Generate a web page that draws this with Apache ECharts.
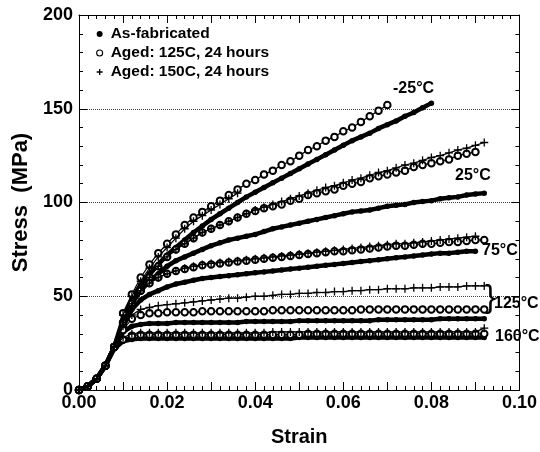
<!DOCTYPE html>
<html>
<head>
<meta charset="utf-8">
<script src="https://cdn.jsdelivr.net/npm/echarts@6/dist/echarts.min.js"></script>
<style>html,body{margin:0;padding:0;background:#fff}#c{width:540px;height:452px}</style>
</head>
<body>
<div id="c"></div>
<script>
// Strain grid (step 0.002)
const strain = [0,0.002,0.004,0.006,0.008,0.010,0.012,0.014,0.016,0.018,0.020,0.022,0.024,0.026,0.028,0.030,0.032,0.034,0.036,0.038,0.040,0.042,0.044,0.046,0.048,0.050,0.052,0.054,0.056,0.058,0.060,0.062,0.064,0.066,0.068,0.070,0.072,0.074,0.076,0.078,0.080,0.082,0.084,0.086,0.088,0.090,0.092];

const xTicks = [0.00,0.02,0.04,0.06,0.08,0.10];
const yTicks = [0,50,100,150,200];
const legendNames = ['As-fabricated','Aged: 125C, 24 hours','Aged: 150C, 24 hours'];
const tempLabels = ['-25°C','25°C','75°C','125°C','160°C'];

// As-fabricated (filled circles)
const fab_m25 = [0,2,6,13,23,38,48,56,62,67,72,76,80,84,87.5,91,94,97,100,103,105.5,108,110.5,113,115.5,118,120.5,123,125.5,128,130.5,133,135,137,139.5,141.5,143.5,146,148,150.5,153];
const fab_25  = [0,2,6,13,23,36,46,53,58,62,66,69,71,73,75,77,78.5,80,81,82,83,84.5,86,87,88,89,90,91,92,93,94,95,95.5,96,97,98,98.5,99,100,100.5,101,102,102.5,103,104,104.5,105];
const fab_75  = [0,2,6,13,23,34,43,48,51,53,55,56.5,57.5,58.5,59.5,60,60.5,61,61.5,62,62.5,63,63.5,64,64.5,65,65.5,66,66.5,67,67.5,68,68.5,69,69.5,70,70.5,71,71.5,72,72.5,73,73,73.5,74,74];
const fab_125 = [0,2,6,13,23,31,34,35,35.5,35.5,35.5,36,36,36,36,36,36,36,36,36.5,36.5,36.5,36.5,36.5,36.5,37,37,37,37,37,37,37,37,37,37.5,37.5,37.5,37.5,37.5,37.5,37.5,38,38,38,38,38,38];
const fab_160 = [0,2,6,13,22,26,27,27.5,27.5,27.5,27.5,27.5,27.5,27.5,27.5,27.5,27.5,27.5,27.5,27.5,27.5,27.5,27.5,27.5,27.5,28,28,28,28,28,28,28,28,28,28,28,28,28,28,28,28,28,28,28,28,28,28];

// Aged 125C, 24 hours (open circles)
const a125_m25 = [0,2,6,13,23,41,51,60,67,73,78,83,88,92,95,98,101,104,107,110,112,115,117,120,122,125,128,130,133,135,138,140,143,146,149,152];
const a125_25  = [0,2,6,13,23,36,45,53,60,66,71,75,78,81,84,86,88,90,92,94,95.5,97,98,99,101,102,104,105,106,107,109,110,111,113,114,115,116,117,119,120,121,122,123,125,126,127];
const a125_75  = [0,2,6,13,23,36,46,53,57,60,62,63.5,64.5,65.5,66.5,67,67.5,68,68.5,69,69.5,70,70.5,71,71.5,72,72.5,73,73.5,74,74,74.5,75,75.5,76,76.5,77,77,77.5,78,78,78.5,79,79,79.5,80,80];
const a125_125 = [0,2,6,13,23,32,38,40,41,41,41.5,41.5,41.5,41.5,42,42,42,42,42,42,42,42,42.5,42.5,42.5,42.5,42.5,42.5,42.5,42.5,42.5,42.5,43,43,43,43,43,43,43,43,43,43,43,43,43,43,43];
const a125_160 = [0,2,6,13,23,27,29,29.5,29.5,29.5,29.5,29.5,29.5,29.5,29.5,29.5,29.5,29.5,29.5,29.5,29.5,29.5,29.5,29.5,29.5,29.5,30,30,30,30,30,30,30,30,30,30,30,30,30,30,30,30,30,30,30,30,30];

// Aged 150C, 24 hours (plus)
const a150_m25 = [0,2,6,13,23,40,50,58,65,71,76,81,86,90,93,96,99,102,105];
const a150_25  = [0,2,6,13,23,36,45,53,60,66,71,75,78,81,84,86,88,90,92,94,96,97.5,99,100.5,102,103.5,105,106.5,108,109,110.5,112,113,114.5,116,117,118.5,120,121,122.5,124,125,126.5,128,129,130.5,132];
const a150_75  = [0,2,6,13,23,36,46,53,57,60,62,63.5,65,66,67,67.5,68,68.5,69,69.5,70,70.5,71,71.5,72,72.5,73,73.5,74,74.5,75,75.5,76,76.5,77,77.5,78,78,78.5,79,79.5,80,80.5,81,81.5,82];
const a150_125 = [0,2,6,13,23,34,40,43,44,45,45.5,46,46.5,47,47.5,48,48.5,49,49,49.5,50,50,50.5,51,51,51.5,51.5,52,52,52.5,52.5,53,53,53.5,53.5,54,54,54,54.5,54.5,54.5,55,55,55,55.5,55.5,55.5];
const a150_160 = [0,2,6,13,23,28,30,30.5,30.5,30.5,30.5,30.5,30.5,30.5,30.5,30.5,30.5,30.5,30.5,30.5,30.5,30.5,31,31,31,31,31,31,31,31,31,31,31,31,31,31,31,31,31,31,31,31,31,31,31,31,33];

const FONT = '"Liberation Sans", Arial, Helvetica, sans-serif';
const PLUS = 'path://M0,4L8,4M4,0L4,8';

function pairs(arr){ return arr.map((v,i)=>[strain[i], v]); }

function filled(arr){
  return {type:'line', name:legendNames[0], data:pairs(arr), symbol:'circle', symbolSize:5.5,
    itemStyle:{color:'#000'}, lineStyle:{color:'#000', width:4.5}, z:3};
}
function openC(arr){
  return {type:'line', name:legendNames[1], data:pairs(arr), symbol:'emptyCircle', symbolSize:6.5,
    itemStyle:{color:'#000', borderColor:'#000', borderWidth:1.1}, lineStyle:{color:'#000', width:1.2}, z:4};
}
function plus(arr){
  return {type:'line', name:legendNames[2], data:pairs(arr), symbol:PLUS, symbolSize:8,
    itemStyle:{color:'#000', borderColor:'#000', borderWidth:1.3}, lineStyle:{color:'#000', width:1.2}, z:5};
}

const series = [
  filled(fab_m25), filled(fab_25), filled(fab_75), filled(fab_125), filled(fab_160),
  openC(a125_m25), openC(a125_25), openC(a125_75), openC(a125_125), openC(a125_160),
  plus(a150_m25), plus(a150_25), plus(a150_75), plus(a150_125), plus(a150_160)
];

const chart = echarts.init(document.getElementById('c'), null, {renderer:'canvas'});
const axisCommon = {
  axisLine:{show:true, onZero:false, lineStyle:{color:'#000', width:1}},
  axisTick:{show:true, inside:true, length:8, lineStyle:{color:'#000'}},
  minorTick:{show:true, splitNumber:5, length:4, lineStyle:{color:'#000'}},
};
const labelStyle = {color:'#000', fontSize:18, fontWeight:'bold', fontFamily:FONT};

chart.setOption({
  animation:false,
  backgroundColor:'#fff',
  grid:{left:79, right:20, top:15, bottom:61, containLabel:false},
  legend:{
    orient:'vertical', left:91, top:21, itemWidth:12, itemHeight:6, itemGap:3, selectedMode:false,
    textStyle:{color:'#000', fontSize:15.5, fontWeight:'bold', fontFamily:FONT},
    data:[
      {name:legendNames[0], icon:'circle', itemStyle:{color:'#000', borderWidth:0}},
      {name:legendNames[1], icon:'circle', itemStyle:{color:'#fff', borderColor:'#000', borderWidth:1.1}},
      {name:legendNames[2], icon:PLUS, itemStyle:{color:'#000', borderColor:'#000', borderWidth:1.3}}
    ]
  },
  xAxis:[
    Object.assign({type:'value', position:'bottom', min:0, max:0.10, interval:0.01,
      name:'Strain', nameLocation:'middle', nameGap:37,
      nameTextStyle:{color:'#000', fontSize:20, fontWeight:'bold', fontFamily:FONT},
      axisLabel:Object.assign({margin:4, formatter:function(v){
        const t = xTicks.find(k=>Math.abs(k-v)<1e-9); return t===undefined ? '' : t.toFixed(2);}}, labelStyle),
      splitLine:{show:false}}, axisCommon),
    Object.assign({type:'value', position:'top', min:0, max:0.10, interval:0.01,
      axisLabel:{show:false}, splitLine:{show:false}}, axisCommon)
  ],
  yAxis:[
    Object.assign({type:'value', position:'left', min:0, max:200, interval:50,
      name:'Stress  (MPa)', nameLocation:'middle', nameGap:45, nameRotate:90,
      nameTextStyle:{color:'#000', fontSize:22, fontWeight:'bold', fontFamily:FONT},
      axisLabel:Object.assign({margin:6, formatter:function(v){ return yTicks.indexOf(v)>=0 ? String(v) : ''; }}, labelStyle),
      splitLine:{show:true, lineStyle:{color:'#444', type:'dotted', width:1}}}, axisCommon),
    Object.assign({type:'value', position:'right', min:0, max:200, interval:50,
      axisLabel:{show:false}, splitLine:{show:false}}, axisCommon)
  ],
  series: series,
  graphic:[
    {type:'text', left:393, top:81, z:100, style:{text:tempLabels[0], fill:'#000', font:'bold 16px '+FONT}},
    {type:'text', left:455, top:168, z:100, style:{text:tempLabels[1], fill:'#000', font:'bold 16px '+FONT}},
    {type:'text', left:482, top:243, z:100, style:{text:tempLabels[2], fill:'#000', font:'bold 16px '+FONT}},
    {type:'text', left:485, top:282, z:100, style:{text:'}', fill:'#000', font:'32px '+FONT}},
    {type:'text', left:494, top:296, z:100, style:{text:tempLabels[3], fill:'#000', font:'bold 16px '+FONT}},
    {type:'text', left:495, top:329, z:100, style:{text:tempLabels[4], fill:'#000', font:'bold 16px '+FONT}}
  ]
});
</script>
</body>
</html>
